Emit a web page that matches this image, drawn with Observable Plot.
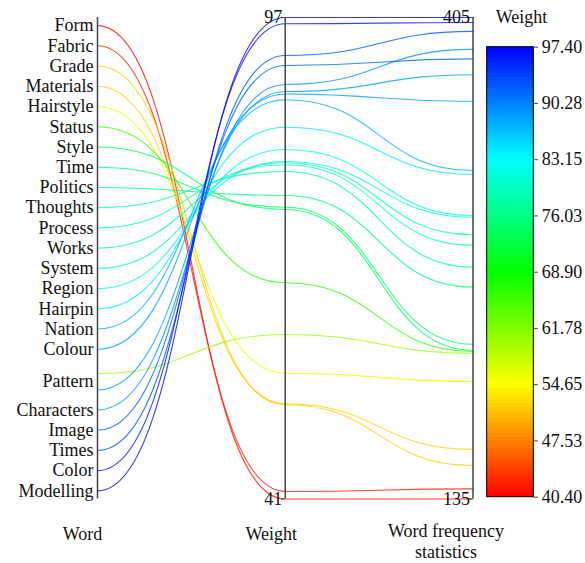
<!DOCTYPE html>
<html><head><meta charset="utf-8">
<script src="https://cdn.jsdelivr.net/npm/d3@7"></script>
<script src="https://cdn.jsdelivr.net/npm/@observablehq/plot@0.6"></script>
<style>
body{margin:0;background:#fff;}
#wrap{position:relative;width:585px;height:563px;}
#wrap svg{position:absolute;left:0;top:0;background:transparent;}
#wrap svg text{font-family:"Liberation Serif","Times New Roman",serif !important;}
</style></head><body><div id="wrap"></div>
<script>
// ---- data ----
const dimensions = ["Word", "Weight", "Word frequency statistics"];
const dimTitles = ["Word", "Weight", "Word frequency\nstatistics"];
const wordLabels = ["Form","Fabric","Grade","Materials","Hairstyle","Status","Style","Time","Politics","Thoughts","Process","Works","System","Region","Hairpin","Nation","Colour","Pattern","Characters","Image","Times","Color","Modelling"];
const wordTickPos = [0,1,2,3,4,5,6,7,8,9,10,11,12,13,14,15,16,17.6,19,20,21,22,23];
const lineWordPos = [0,1,2,3,4,5,6,7,8,9,10,11,12,13,14,15,16,17.2,18,19,20,21,22,23];
const lineWeight = [41.0,41.87,51.96,52.07,55.63,66.15,74.67,74.94,76.30,79.09,79.87,80.10,80.25,81.65,84.24,87.43,88.10,60.13,88.39,89.21,91.42,92.58,96.27,97.0];
const lineFreq = [135,140.7,153.8,162.8,200.9,217.7,218.3,221.7,253.8,265.0,277.2,283.2,293.0,294.0,317.0,319.2,357.9,216.8,372.9,387.1,381.8,397.2,402.2,405];
const wordRange = [-0.4, 23.4];   // top .. bottom of the Word axis
const weightRange = [41, 97];
const freqRange = [135, 405];
const colorDomain = [40.40, 97.40];
const colorTicks = [40.40, 47.53, 54.65, 61.78, 68.90, 76.03, 83.15, 90.28, 97.40];
const colorStops = [40.40, 54.65, 68.90, 83.15, 97.40];
const colorStopColors = ["#ff0000", "#ffff00", "#00ff00", "#00ffff", "#0000ff"];

// ---- normalisation helpers ----
const nWord = v => (wordRange[1] - v) / (wordRange[1] - wordRange[0]);
const nWeight = v => (v - weightRange[0]) / (weightRange[1] - weightRange[0]);
const nFreq = v => (v - freqRange[0]) / (freqRange[1] - freqRange[0]);

const rows = [];
lineWeight.forEach((w, i) => {
  rows.push({id: i, dim: 0, yn: nWord(lineWordPos[i]), weight: w});
  rows.push({id: i, dim: 1, yn: nWeight(w), weight: w});
  rows.push({id: i, dim: 2, yn: nFreq(lineFreq[i]), weight: w});
});
const ends = [
  {dim: 1, yn: 1, label: String(weightRange[1])},
  {dim: 1, yn: 0, label: String(weightRange[0])},
  {dim: 2, yn: 1, label: String(freqRange[1])},
  {dim: 2, yn: 0, label: String(freqRange[0])}
];
const wordTicks = wordLabels.map((t, i) => ({label: t, yn: nWord(wordTickPos[i])}));
const titles = dimTitles.map((t, i) => ({dim: i, label: t}));

const FONT = "Liberation Serif";
const colorScale = {type: "linear", domain: colorStops, range: colorStopColors, interpolate: "rgb"};
const T = {fontSize: 18, fontFamily: FONT, fill: "#111"};

const main = Plot.plot({
  width: 585, height: 563,
  style: {fontFamily: FONT, fontSize: "18px", background: "transparent"},
  x: {type: "linear", domain: [0, 2], range: [97, 472.5], axis: null},
  y: {type: "linear", domain: [0, 1], range: [498.5, 17], axis: null},
  color: colorScale,
  marks: [
    Plot.line(rows, {x: "dim", y: "yn", z: "id", stroke: "weight", curve: "bump-x", strokeWidth: 1.1, strokeOpacity: 0.8}),
    Plot.ruleX([0, 1, 2], {x: d => d, y1: 0, y2: 1, stroke: "#444", strokeWidth: 1.5}),
    Plot.ruleY(ends, {y: "yn", x1: d => d.dim - 0.02, x2: "dim", stroke: "#444", strokeWidth: 1}),
    Plot.text(ends, {x: "dim", y: "yn", text: "label", textAnchor: "end", dx: -3, ...T}),
    Plot.text(wordTicks, {x: 0, y: "yn", text: "label", textAnchor: "end", dx: -4, ...T}),
    Plot.text(titles.slice(0, 1), {x: "dim", y: 0, text: "label", dx: -15, dy: 35, ...T}),
    Plot.text(titles.slice(1, 2), {x: "dim", y: 0, text: "label", dx: -14, dy: 35, ...T}),
    Plot.text(titles.slice(2, 3), {x: "dim", y: 0, text: "label", dx: -27, dy: 42, lineHeight: 1.17, ...T})
  ]
});

// colour bar, drawn with Plot on an overlay
const nBands = 120;
const bands = d3.range(nBands).map(k => {
  const a = colorDomain[0] + (colorDomain[1] - colorDomain[0]) * k / nBands;
  const b = colorDomain[0] + (colorDomain[1] - colorDomain[0]) * (k + 1) / nBands;
  return {y1: a, y2: b, v: (a + b) / 2};
});
const bar = Plot.plot({
  width: 585, height: 563,
  style: {fontFamily: FONT, fontSize: "18px", background: "transparent"},
  x: {type: "linear", domain: [0, 1], range: [486.7, 533.3], axis: null},
  y: {type: "linear", domain: colorDomain, range: [496.7, 46.7], axis: null},
  color: colorScale,
  marks: [
    Plot.rect(bands, {x1: 0, x2: 1, y1: "y1", y2: "y2", fill: "v", shapeRendering: "crispEdges", stroke: "v", strokeWidth: 0.5}),
    Plot.rect([0], {x1: 0, x2: 1, y1: colorDomain[0], y2: colorDomain[1], fill: "none", stroke: "#000", strokeWidth: 1}),
    Plot.ruleY(colorTicks, {y: d => d, x1: 1, x2: 1.1, stroke: "#444", strokeWidth: 1}),
    Plot.text(colorTicks, {x: 1, y: d => d, text: d => d.toFixed(2), textAnchor: "start", dx: 8, ...T}),
    Plot.text(["Weight"], {x: 0.5, y: colorDomain[1], text: d => d, dx: 11, dy: -30, ...T})
  ]
});
const wrap = document.getElementById("wrap");
wrap.appendChild(main);
wrap.appendChild(bar);
</script></body></html>
